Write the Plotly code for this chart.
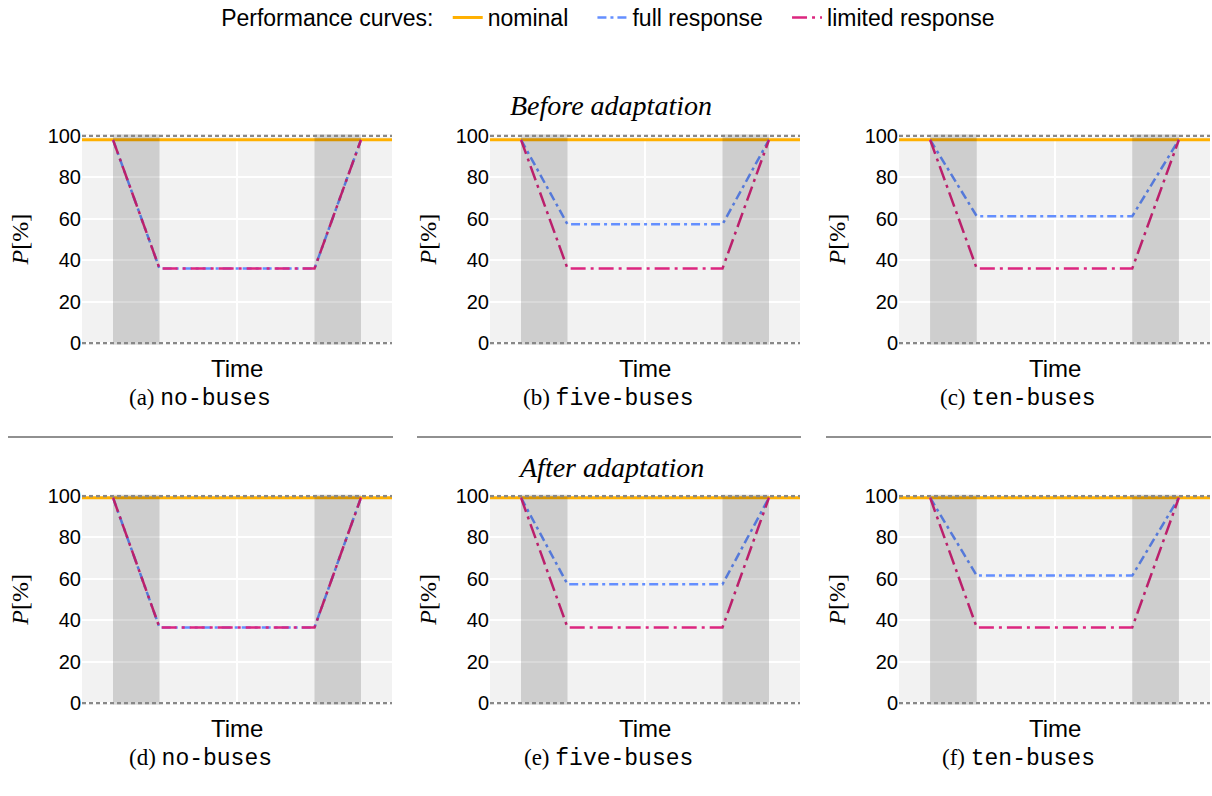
import plotly.graph_objects as go
from plotly.subplots import make_subplots

# ---------------- data ----------------
scenarios = ["no-buses", "five-buses", "ten-buses"]
captions_before = ["(a)", "(b)", "(c)"]
captions_after = ["(d)", "(e)", "(f)"]

time_nominal = [0, 10]
time_curve = [1, 2.5, 7.5, 9]          # disruption start, degraded, recovery start, recovered
disruption_windows = [(1, 2.5), (7.5, 9)]

nominal_before = [98, 98]
nominal_after = [99.2, 99.2]

full_before = {
    "no-buses": [98, 36, 36, 98],
    "five-buses": [98, 57.3, 57.3, 98],
    "ten-buses": [98, 61.2, 61.2, 98],
}
limited_before = {
    "no-buses": [98, 36, 36, 98],
    "five-buses": [98, 36, 36, 98],
    "ten-buses": [98, 36, 36, 98],
}
full_after = {
    "no-buses": [99.2, 36.6, 36.6, 99.2],
    "five-buses": [99.2, 57.4, 57.4, 99.2],
    "ten-buses": [99.2, 61.6, 61.6, 99.2],
}
limited_after = {
    "no-buses": [99.2, 36.6, 36.6, 99.2],
    "five-buses": [99.2, 36.6, 36.6, 99.2],
    "ten-buses": [99.2, 36.6, 36.6, 99.2],
}
y_ticks = [0, 20, 40, 60, 80, 100]

# ---------------- style ----------------
C_NOM = "#FFB000"
C_FULL = "#648FFF"
C_LIM = "#DC267F"
W, H = 1212, 796
SANS = "Liberation Sans, Arial, sans-serif"
SERIF = "Liberation Serif, Times New Roman, serif"
MONO = "Liberation Mono, Courier New, monospace"
PAD = "\u00a0\u00a0\u00a0"

col_px = [(82, 392), (490, 800), (899, 1210)]
row_px = [(134.4, 344.5), (494.8, 704.5)]

fig = make_subplots(rows=2, cols=3)

rows_data = [
    (nominal_before, full_before, limited_before),
    (nominal_after, full_after, limited_after),
]

for r, (nom, full, lim) in enumerate(rows_data):
    for c, sc in enumerate(scenarios):
        first = (r == 0 and c == 0)
        fig.add_trace(go.Scatter(x=time_nominal, y=nom, mode="lines",
                                 line=dict(color=C_NOM, width=3),
                                 name="nominal" + PAD, showlegend=first,
                                 legendgroup="nom"), row=r + 1, col=c + 1)
        fig.add_trace(go.Scatter(x=time_curve, y=full[sc], mode="lines",
                                 line=dict(color=C_FULL, width=2.5, dash="9px,4px,3px,4px"),
                                 name="full response" + PAD, showlegend=first,
                                 legendgroup="full"), row=r + 1, col=c + 1)
        fig.add_trace(go.Scatter(x=time_curve, y=lim[sc], mode="lines",
                                 line=dict(color=C_LIM, width=2.5, dash="15px,5px,3px,5px"),
                                 name="limited response", showlegend=first,
                                 legendgroup="lim"), row=r + 1, col=c + 1)

layout_axes = {}
idx = 0
for r in range(2):
    for c in range(3):
        idx += 1
        sfx = "" if idx == 1 else str(idx)
        x0, x1 = col_px[c]
        ytop, ybot = row_px[r]
        layout_axes["xaxis" + sfx] = dict(
            domain=[x0 / W, x1 / W], range=[0, 10], tickvals=[5],
            showticklabels=False, ticks="", showgrid=True, gridcolor="white",
            gridwidth=1.5, zeroline=False, showline=False,
            anchor="y" + sfx,
        )
        layout_axes["yaxis" + sfx] = dict(
            domain=[1 - ybot / H, 1 - ytop / H], range=[-0.6, 100.6],
            tickvals=y_ticks, ticks="", showgrid=True, gridcolor="white",
            gridwidth=1.5, zeroline=False, showline=False,
            tickfont=dict(family=SANS, size=20, color="black"),
            anchor="x" + sfx,
        )
        # disruption shading
        for (a, b) in disruption_windows:
            fig.add_shape(type="rect", xref="x" + sfx, yref="y" + sfx + " domain",
                          x0=a, x1=b, y0=0, y1=1, layer="above",
                          fillcolor="rgba(0,0,0,0.15)", line=dict(width=0))
        # reference lines at 0 and 100
        for yv in (0, 100):
            fig.add_shape(type="line", xref="x" + sfx + " domain", yref="y" + sfx,
                          x0=0, x1=1, y0=yv, y1=yv, layer="above",
                          line=dict(color="#888888", width=2.5, dash="4px,3px"))

        # annotations
        cx_plot = (x0 + x1) / 2
        cy_plot = (ytop + ybot) / 2
        sub_left = 8 + c * 409
        sub_center = (sub_left + x1) / 2
        fig.add_annotation(x=cx_plot / W, y=1 - (ybot + 24) / H, xref="paper", yref="paper",
                           text="Time", showarrow=False, xanchor="center", yanchor="middle",
                           font=dict(family=SANS, size=24, color="black"))
        cap = (captions_before if r == 0 else captions_after)[c]
        fig.add_annotation(x=sub_center / W, y=1 - (ybot + 54) / H, xref="paper", yref="paper",
                           text=cap + ' <span style="font-family:' + MONO + '">' + scenarios[c] + "</span>",
                           showarrow=False, xanchor="center", yanchor="middle",
                           font=dict(family=SERIF, size=23, color="black"))
        fig.add_annotation(x=(x0 - 62) / W, y=1 - cy_plot / H, xref="paper", yref="paper",
                           text="<i>P</i>[%]", textangle=-90, showarrow=False,
                           xanchor="center", yanchor="middle",
                           font=dict(family=SERIF, size=24, color="black"))

# separators
for c in range(3):
    x0 = 8 + c * 409
    x1 = col_px[c][1]
    fig.add_shape(type="line", xref="paper", yref="paper",
                  x0=x0 / W, x1=(x1 + 1) / W, y0=1 - 437 / H, y1=1 - 437 / H,
                  line=dict(color="#222222", width=1.2))

# section titles
fig.add_annotation(x=611 / W, y=1 - 106 / H, xref="paper", yref="paper",
                   text="<i>Before adaptation</i>", showarrow=False,
                   xanchor="center", yanchor="middle",
                   font=dict(family=SERIF, size=28, color="black"))
fig.add_annotation(x=611 / W, y=1 - 467 / H, xref="paper", yref="paper",
                   text="<i>After adaptation</i>", showarrow=False,
                   xanchor="center", yanchor="middle",
                   font=dict(family=SERIF, size=28, color="black"))

fig.update_layout(
    width=W, height=H,
    margin=dict(l=0, r=0, t=0, b=0, autoexpand=False),
    paper_bgcolor="white", plot_bgcolor="#f2f2f2",
    legend=dict(orientation="h", x=0.503, xanchor="center", y=1.005, yanchor="top",
                title=dict(text="Performance curves:\u00a0", side="left",
                           font=dict(family=SANS, size=23, color="black")),
                font=dict(family=SANS, size=23, color="black"),
                bgcolor="rgba(0,0,0,0)"),
    **layout_axes,
)

fig.write_html("out.html")
